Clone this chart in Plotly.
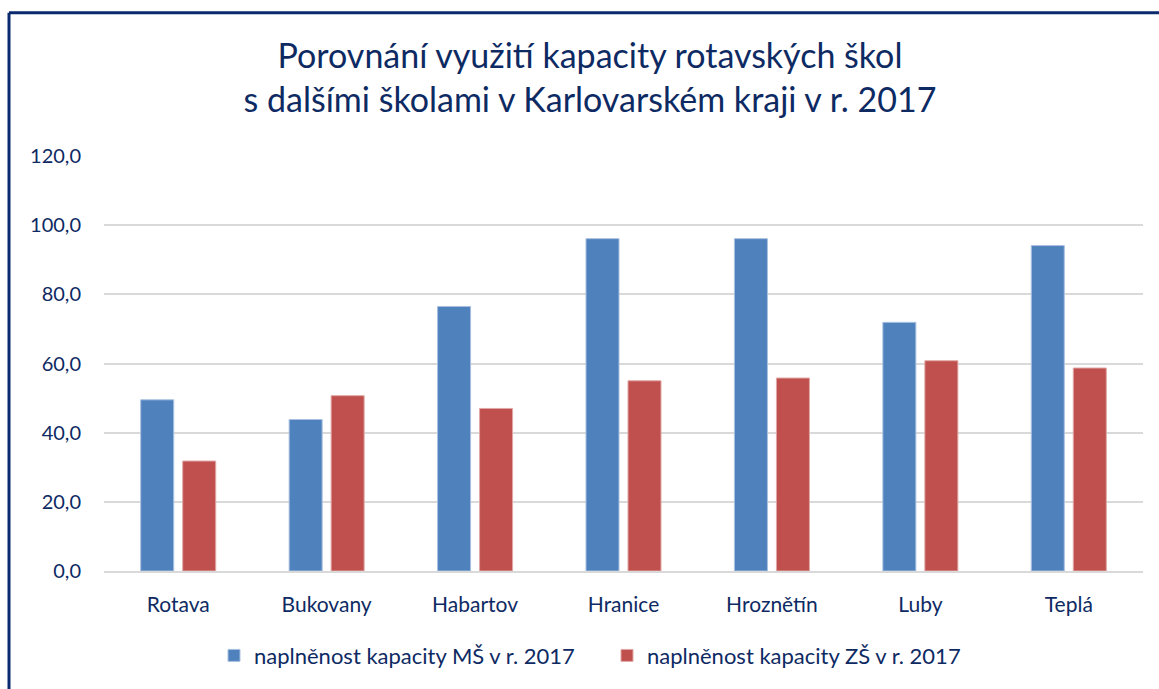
import plotly.graph_objects as go

categories = ["Rotava", "Bukovany", "Habartov", "Hranice", "Hroznětín", "Luby", "Teplá"]
ms_values = [49.5, 43.8, 76.5, 96.1, 96.1, 71.9, 94.1]
zs_values = [31.8, 50.7, 47.0, 55.0, 55.8, 60.8, 58.7]
series_names = ["naplněnost kapacity MŠ v r. 2017", "naplněnost kapacity ZŠ v r. 2017"]
y_ticks = [0, 20, 40, 60, 80, 100, 120]
y_tick_labels = ["0,0", "20,0", "40,0", "60,0", "80,0", "100,0", "120,0"]

navy = "#0e2a63"
font_family = "Lato, 'Open Sans', sans-serif"

fig = go.Figure()
fig.add_trace(go.Bar(x=categories, y=ms_values, name=series_names[0],
                     marker=dict(color="#4f81bd", line=dict(color="#a9c1e0", width=1))))
fig.add_trace(go.Bar(x=categories, y=zs_values, name=series_names[1],
                     marker=dict(color="#c0504d", line=dict(color="#e0a8a6", width=1))))

W, H = 1159, 689
L, R, T, B = 104, 16, 156, 116
pw, ph = W - L - R, H - T - B

def px_x(x):
    return (x - L) / pw

def px_y(y):
    return (H - B - y) / ph

fig.update_layout(
    width=W, height=H,
    margin=dict(l=L, r=R, t=T, b=B),
    paper_bgcolor="white", plot_bgcolor="white",
    barmode="group", bargap=0.434, bargroupgap=0.214,
    font=dict(family=font_family, color=navy, size=21),
    title=dict(text="Porovnání využití kapacity rotavských škol<br>s dalšími školami v Karlovarském kraji v r. 2017",
               x=590 / W, xref="container", xanchor="center", y=1 - 68 / H, yanchor="middle",
               font=dict(size=34, color=navy, family=font_family)),
    xaxis=dict(showgrid=False, showline=True, linecolor="#d9d9d9", linewidth=2,
               tickfont=dict(size=21, color=navy), ticks="", ticklabelstandoff=14),
    yaxis=dict(range=[0, 120], tickvals=y_ticks, ticktext=y_tick_labels,
               showgrid=True, gridcolor="#d9d9d9", gridwidth=2, zeroline=False,
               tickfont=dict(size=20, color=navy), ticks="", ticklabelstandoff=22),
    legend=dict(orientation="h", x=px_x(214), xanchor="left", y=px_y(658), yanchor="middle",
                font=dict(size=22, color=navy), itemwidth=30, traceorder="normal",
                entrywidth=348, entrywidthmode="pixels"),
    showlegend=True,
)

fig.add_shape(type="line", xref="paper", yref="paper",
              x0=px_x(9), x1=px_x(W + 5), y0=px_y(12), y1=px_y(12),
              line=dict(color="#0b2a6e", width=3))
fig.add_shape(type="line", xref="paper", yref="paper",
              x0=px_x(9), x1=px_x(9), y0=px_y(12), y1=px_y(H + 5),
              line=dict(color="#0b2a6e", width=3))

fig.write_html("out.html", config={"displayModeBar": False},
               post_script="document.body.style.margin='0';document.body.style.overflow='hidden';")
